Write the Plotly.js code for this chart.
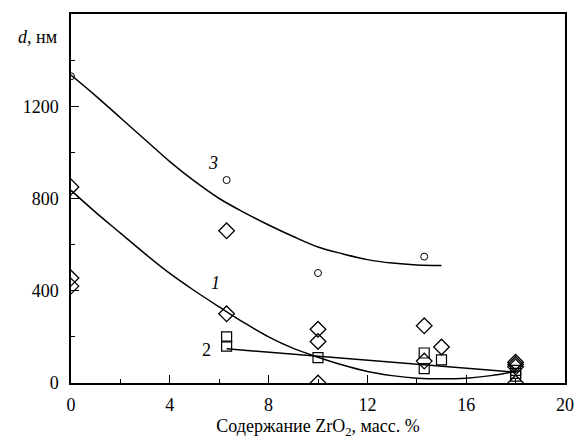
<!DOCTYPE html>
<html>
<head>
<meta charset="utf-8">
<script src="https://cdn.plot.ly/plotly-3.0.1.min.js"></script>
<style>html,body{margin:0;padding:0;background:#fff;}#chart{width:582px;height:439px;}</style>
</head>
<body>
<div id="chart"></div>
<script>
// Series 1 (diamonds)
const s1X = [0, 0, 0, 6.3, 6.3, 10, 10, 10, 14.3, 14.3, 15, 18, 18, 18, 18];
const s1Y = [850, 455, 420, 660, 300, 233, 180, 0, 248, 95, 156, 90, 80, 70, 0];
// Series 2 (squares)
const s2X = [6.3, 6.3, 10, 14.3, 14.3, 15, 18, 18, 18];
const s2Y = [200, 160, 110, 130, 62, 100, 55, 42, 30];
// Series 3 (circles)
const s3X = [0, 6.3, 10, 14.3];
const s3Y = [1330, 880, 477, 548];
// Fitted curves
const c1X = [0, 1, 2, 3, 4, 5, 6, 7, 8, 9, 10, 11, 12, 13, 14, 15, 16, 17, 18];
const c1Y = [835, 740, 650, 560, 475, 400, 330, 262, 200, 150, 112, 78, 50, 32, 21, 18, 21, 32, 50];
const c2X = [6.3, 18];
const c2Y = [148, 47];
const c3X = [0, 1, 2, 3, 4, 5, 6, 7, 8, 9, 10, 11, 12, 13, 14, 15];
const c3Y = [1335, 1245, 1150, 1055, 960, 875, 800, 740, 685, 635, 590, 560, 535, 520, 512, 510];
// Axis ticks
const xTicks = [0, 4, 8, 12, 16, 20];
const yTicks = [0, 400, 800, 1200];

const serif = 'Liberation Serif';
const FS = 18;
const lineStyle = {color: 'black', width: 1.5};

const traces = [
  {x: c3X, y: c3Y, mode: 'lines', line: Object.assign({shape: 'spline'}, lineStyle), hoverinfo: 'skip'},
  {x: c1X, y: c1Y, mode: 'lines', line: Object.assign({shape: 'spline'}, lineStyle), hoverinfo: 'skip'},
  {x: c2X, y: c2Y, mode: 'lines', line: lineStyle, hoverinfo: 'skip'},
  {x: s1X, y: s1Y, mode: 'markers', marker: {symbol: 'diamond-open', size: 12, color: 'black', line: {width: 1.3, color: 'black'}}},
  {x: s2X, y: s2Y, mode: 'markers', marker: {symbol: 'square-open', size: 10, color: 'black', line: {width: 1.2, color: 'black'}}},
  {x: s3X, y: s3Y, mode: 'markers', marker: {symbol: 'circle-open', size: 7, color: 'black', line: {width: 1, color: 'black'}}}
];

const layout = {
  width: 582, height: 439,
  margin: {l: 71, r: 17, t: 14, b: 56},
  paper_bgcolor: 'white', plot_bgcolor: 'white',
  showlegend: false,
  font: {family: serif, size: FS, color: 'black'},
  xaxis: {
    range: [0, 20], tickvals: xTicks, ticktext: xTicks.map(String),
    ticks: 'inside', ticklen: 8, tickwidth: 1.3, tickcolor: 'black',
    minor: {dtick: 2, ticks: 'inside', ticklen: 4, tickwidth: 1, tickcolor: 'black'},
    showline: true, linecolor: 'black', linewidth: 1.6, mirror: true,
    showgrid: false, zeroline: false, ticklabelstandoff: 5,
    tickfont: {family: serif, size: FS, color: 'black'},
    title: {text: 'Содержание ZrO<sub>2</sub>, масс. %', font: {family: serif, size: FS, color: 'black'}, standoff: 10}
  },
  yaxis: {
    range: [0, 1600], tickvals: yTicks, ticktext: yTicks.map(String),
    ticks: 'inside', ticklen: 8, tickwidth: 1.3, tickcolor: 'black',
    minor: {dtick: 200, ticks: 'inside', ticklen: 4, tickwidth: 1, tickcolor: 'black'},
    showline: true, linecolor: 'black', linewidth: 1.6, mirror: true,
    showgrid: false, zeroline: false, ticklabelstandoff: 7,
    tickfont: {family: serif, size: FS, color: 'black'}
  },
  annotations: [
    {xref: 'paper', yref: 'paper', x: -0.025, y: 0.938, xanchor: 'right', yanchor: 'middle', showarrow: false,
     text: '<i>d</i>, нм', font: {family: serif, size: FS, color: 'black'}},
    {xref: 'x', yref: 'y', x: 5.75, y: 955, showarrow: false, text: '<i>3</i>', font: {family: serif, size: FS, color: 'black'}},
    {xref: 'x', yref: 'y', x: 5.85, y: 432, showarrow: false, text: '<i>1</i>', font: {family: serif, size: FS, color: 'black'}},
    {xref: 'x', yref: 'y', x: 5.5, y: 145, showarrow: false, text: '2', font: {family: serif, size: FS, color: 'black'}}
  ]
};

Plotly.newPlot('chart', traces, layout, {displayModeBar: false, staticPlot: true});
</script>
</body>
</html>
